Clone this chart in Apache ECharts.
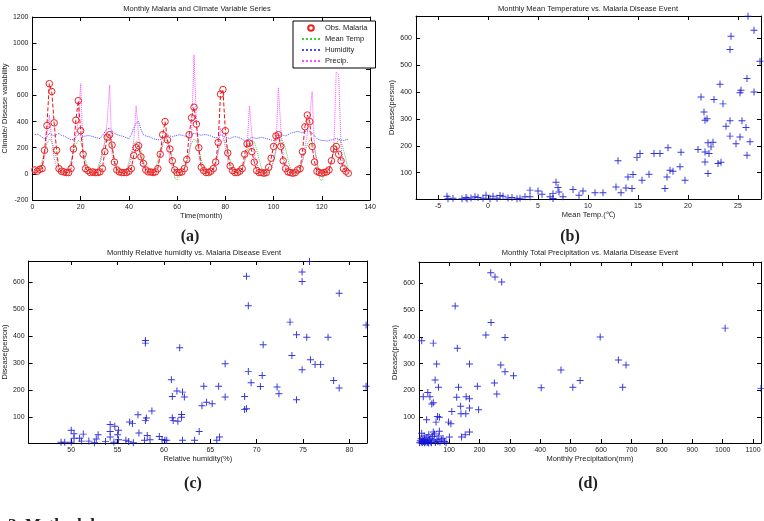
<!DOCTYPE html>
<html>
<head>
<meta charset="utf-8">
<script src="https://cdn.jsdelivr.net/npm/echarts@6/dist/echarts.min.js"></script>
<style>
html, body { margin: 0; padding: 0; background: #fff; }
#container { width: 764px; height: 521px; }
</style>
</head>
<body>
<div id="container"></div>
<script>
// (a) monthly series, one value per month
var malaria = [
    30, 20, 35, 40, 180, 370, 690, 630, 390, 180, 40, 20,
    15, 10, 10, 40, 190, 410, 560, 330, 150, 40, 25, 10,
    15, 10, 10, 15, 40, 170, 280, 300, 220, 90, 30, 15,
    10, 10, 10, 20, 40, 140, 200, 215, 130, 80, 30, 15,
    15, 10, 15, 40, 150, 300, 400, 260, 190, 100, 30, 10,
    10, 15, 40, 110, 300, 430, 510, 380, 200, 50, 25, 10,
    10, 20, 40, 90, 240, 610, 645, 330, 160, 60, 25, 10,
    10, 20, 40, 150, 230, 235, 170, 90, 25, 10, 10, 5,
    10, 50, 120, 210, 290, 300, 210, 100, 40, 15, 10, 5,
    10, 30, 40, 170, 360, 450, 400, 210, 90, 20, 10, 5,
    10, 15, 30, 100, 190, 210, 150, 100, 40, 20, 5
];
var meanTemp = [
    10, 5, 40, 100, 170, 230, 265, 250, 190, 110, 45, 10,
    5, 10, 35, 95, 165, 225, 255, 245, 185, 105, 40, 5,
    0, 10, 40, 100, 175, 235, 270, 255, 195, 115, 45, 10,
    5, 5, 30, 90, 160, 220, 250, 240, 180, 100, 35, 5,
    0, 10, 40, 105, 170, 230, 260, 250, 190, 110, -30, -45,
    5, 15, 45, 100, 175, 235, 265, 255, 190, 110, 40, 5,
    0, 10, 40, 95, 170, 230, 260, 250, 185, 105, 40, 10,
    5, 10, 35, 100, 170, 225, 255, 245, 185, 110, 45, 5,
    0, 10, 40, 100, 175, 230, 265, 250, 190, 110, 40, 5,
    5, 10, 40, 95, 165, 225, 260, 250, 190, 105, -35, -55,
    0, 10, 35, 100, 170, 230, 260, 245, 185, 110, 30
];
var humidity = [
    300, 305, 295, 280, 270, 285, 310, 300, 290, 300, 310, 295,
    290, 280, 270, 260, 265, 280, 300, 290, 285, 290, 295, 290,
    285, 280, 275, 270, 290, 320, 345, 350, 330, 310, 300, 295,
    290, 285, 275, 270, 300, 350, 390, 400, 340, 300, 290, 285,
    280, 270, 265, 260, 262, 270, 290, 300, 290, 285, 290, 295,
    300, 295, 290, 285, 290, 300, 310, 305, 300, 295, 300, 300,
    295, 290, 280, 275, 280, 300, 290, 280, 275, 270, 280, 285,
    280, 275, 265, 255, 260, 270, 280, 275, 270, 275, 280, 275,
    270, 265, 260, 255, 265, 280, 300, 295, 290, 300, 310, 315,
    320, 325, 320, 315, 320, 330, 325, 310, 290, 270, 260, 255,
    255, 250, 255, 260, 265, 270, 265, 260, 255, 260, 265
];
var precip = [
    20, 15, 30, 60, 120, 300, 450, 250, 120, 50, 20, 10,
    15, 20, 40, 80, 200, 300, 400, 690, 150, 60, 25, 10,
    10, 20, 35, 70, 150, 250, 400, 680, 150, 70, 25, 10,
    10, 15, 30, 60, 120, 250, 520, 300, 120, 50, 20, 10,
    10, 15, 30, 60, 130, 220, 300, 250, 120, 50, 20, 10,
    10, 20, 40, 80, 150, 300, 910, 400, 150, 60, 20, 10,
    10, 15, 30, 70, 150, 350, 300, 200, 100, 40, 15, 10,
    10, 20, 40, 90, 200, 520, 300, 150, 80, 30, 15, 10,
    10, 20, 40, 100, 200, 660, 350, 150, 70, 30, 15, 10,
    10, 20, 40, 100, 200, 300, 450, 630, 200, 80, 20, 10,
    10, 15, 30, 80, 200, 780, 760, 200, 80, 30, 10
];

// (b) mean temperature (C) vs disease
var tempX = [-4.1, -4.0, -3.5, -2.6, -2.2, -2.1, -1.7, -1.3, -1.0, -0.5, -0.2, 0.2, 0.5, 0.9, 1.2, 1.5, 2.0, 2.4, 2.9, 3.2,
    3.7, 4.2, 4.2, 5.0, 5.4, 6.2, 6.5, 6.5, 6.8, 7.0, 7.1, 7.5, 8.5, 9.1, 9.5, 10.7, 11.5, 12.8, 13.0, 13.3,
    13.8, 14.0, 14.4, 14.5, 14.9, 15.2, 15.4, 16.1, 16.6, 17.2, 17.7, 17.9, 18.0, 18.2, 18.5, 19.2, 19.3, 19.7, 21.0, 21.3,
    21.6, 21.7, 21.7, 21.7, 21.9, 22.0, 22.0, 22.1, 22.3, 22.5, 22.6, 23.0, 23.2, 23.3, 23.5, 23.8, 24.2, 24.2, 24.2, 24.3,
    24.8, 25.2, 25.2, 25.3, 25.4, 25.8, 25.9, 25.9, 26.0, 26.2, 26.6, 26.6, 27.2];
var tempCases = [12, 3, 5, 3, 8, 2, 6, 10, 8, 5, 16, 3, 12, 5, 15, 12, 6, 8, 3, 5,
    10, 35, 10, 32, 20, 10, 4, 22, 64, 45, 28, 10, 37, 16, 32, 25, 25, 47, 144, 25,
    43, 84, 41, 93, 156, 171, 72, 94, 171, 171, 41, 84, 193, 109, 105, 122, 176, 72, 186, 382,
    326, 295, 177, 140, 301, 211, 97, 171, 196, 213, 372, 134, 429, 139, 356, 273, 236, 293, 558, 608,
    208, 397, 233, 407, 293, 268, 450, 165, 682, 215, 630, 400, 515];

// (c) relative humidity (%) vs disease
var humX = [48.9, 49.3, 50.0, 50.0, 50.3, 50.3, 50.9, 51.3, 51.1, 51.9, 52.5, 52.7, 52.9, 53.7, 54.2, 54.2, 54.2, 54.7, 54.6, 55.0,
    55.1, 55.1, 56.3, 56.6, 55.9, 56.2, 56.7, 57.2, 57.3, 58.0, 58.1, 58.0, 58.0, 57.9, 58.2, 58.5, 58.7, 59.5, 59.8, 60.1,
    60.3, 60.8, 60.9, 60.9, 61.0, 61.4, 61.5, 61.7, 61.9, 61.9, 62.0, 62.0, 62.2, 63.3, 63.8, 64.1, 64.3, 64.6, 65.2, 65.7,
    65.9, 66.0, 66.6, 66.6, 68.7, 68.7, 68.9, 68.9, 69.1, 69.1, 69.4, 70.4, 70.6, 70.7, 72.2, 72.4, 73.6, 73.8, 74.3, 74.3,
    74.9, 74.9, 74.9, 75.4, 75.7, 75.8, 76.3, 76.9, 77.7, 78.3, 78.9, 78.9, 81.8, 81.8];
var humCases = [7, 7, 51, 7, 38, 22, 22, 37, 11, 11, 5, 19, 35, 10, 73, 47, 26, 66, 7, 35,
    16, 51, 82, 76, 14, 10, 5, 109, 41, 88, 97, 385, 375, 14, 32, 16, 123, 28, 17, 14,
    14, 239, 177, 98, 88, 197, 85, 358, 110, 100, 193, 14, 175, 14, 47, 142, 215, 155, 150, 14,
    215, 26, 298, 175, 177, 128, 131, 623, 514, 270, 228, 214, 255, 369, 212, 187, 453, 329, 406, 165,
    639, 604, 276, 397, 678, 313, 296, 296, 397, 236, 560, 208, 442, 215];

// (d) monthly precipitation (mm) vs disease
var rainX = [3, 5, 6, 8, 9, 10, 12, 13, 14, 16, 18, 19, 20, 22, 24, 25, 27, 28, 30, 32,
    33, 35, 38, 40, 42, 45, 50, 52, 55, 60, 63, 66, 70, 75, 80, 85, 90,
    10, 15, 26, 30, 37, 43, 48, 48, 54, 57, 59, 62, 65, 68, 48, 68, 98, 106, 109, 101,
    120, 127, 125, 131, 138, 139, 141, 155, 156, 153, 167, 167, 167, 167, 193, 197, 221, 237, 238, 251,
    249, 257, 270, 273, 284, 284, 312, 403, 468, 507, 531, 597, 657, 671, 682, 695, 1008, 1126];
var rainCases = [5, 12, 3, 20, 8, 40, 6, 15, 2, 10, 30, 5, 18, 8, 12, 3, 25, 6, 10, 4,
    35, 15, 8, 20, 5, 28, 12, 38, 6, 18, 10, 30, 8, 15, 22, 10, 5,
    386, 177, 91, 193, 177, 150, 377, 154, 239, 82, 299, 103, 212, 100, 45, 48, 82, 76, 122, 26,
    516, 358, 175, 212, 141, 113, 26, 113, 177, 35, 169, 135, 299, 45, 216, 128, 407, 640, 454, 624,
    228, 187, 295, 605, 398, 270, 255, 210, 277, 212, 237, 400, 314, 212, 295, 681, 433, 208];

var FONT = '"Liberation Sans Narrow", "Liberation Sans", Arial, sans-serif';
var PLUS = 'path://M4.3,0H5.7V4.3H10V5.7H5.7V10H4.3V5.7H0V4.3H4.3Z';

function pairs(xs, ys) {
    return xs.map(function (x, i) { return [x, ys[i]]; });
}
function byMonth(vals) {
    return vals.map(function (v, i) { return [i + 1, v]; });
}

// main axis plus a mirrored one so every plot gets a closed box with inward ticks
function axisPair(kind, gridIndex, range, name, nameGap, exact) {
    var base = {
        type: 'value', gridIndex: gridIndex, min: range[0], max: range[1],
        splitLine: {show: false},
        axisLine: {onZero: false, lineStyle: {color: '#000', width: 1}},
        axisTick: {inside: true, length: 4, lineStyle: {color: '#000'}}
    };
    if (exact) {
        base.interval = range[2];
    } else {
        base.minInterval = range[2];
        base.maxInterval = range[2];
    }
    var main = Object.assign({}, base, {
        position: kind === 'x' ? 'bottom' : 'left',
        name: name, nameLocation: 'middle', nameGap: nameGap,
        nameTextStyle: {fontSize: 7.5, color: '#222', fontFamily: FONT},
        axisLabel: {fontSize: 7, color: '#222', fontFamily: FONT, margin: 4,
            showMinLabel: exact, showMaxLabel: exact,
            formatter: function (v) { return String(v); }}
    });
    var mirror = Object.assign({}, base, {
        position: kind === 'x' ? 'top' : 'right',
        axisLabel: {show: false}
    });
    return [main, mirror];
}

function txt(text, x, y, font, align) {
    return {
        type: 'text', x: x, y: y, silent: true,
        style: {text: text, fill: '#222', font: font,
            textAlign: align || 'center', textVerticalAlign: 'middle',
            align: align || 'center', verticalAlign: 'middle'}
    };
}

var small = '7.5px ' + FONT;
var panel = 'bold 16px "Liberation Serif", "Times New Roman", serif';

var xAxes = [].concat(
    axisPair('x', 0, [0, 140, 20], 'Time(month)', 11, true),
    axisPair('x', 1, [-7.2, 27.3, 5], 'Mean Temp.(\u2103)', 11, false),
    axisPair('x', 2, [45.4, 81.9, 5], 'Relative humidity(%)', 11, false),
    axisPair('x', 3, [1, 1126, 100], 'Monthly Precipitation(mm)', 11, false)
);
var yAxes = [].concat(
    axisPair('y', 0, [-200, 1200, 200], 'Climate/ Disease variability', 17, true),
    axisPair('y', 1, [2, 683, 100], 'Disease(person)', 17, false),
    axisPair('y', 2, [4, 680, 100], 'Disease(person)', 16, false),
    axisPair('y', 3, [4, 680, 100], 'Disease(person)', 18, false)
);

function scatter(idx, data) {
    return {
        type: 'scatter', xAxisIndex: idx * 2, yAxisIndex: idx * 2, data: data,
        symbol: PLUS, symbolSize: 7, silent: true,
        itemStyle: {color: '#1414d8', opacity: 0.85}
    };
}

var option = {
    animation: false,
    backgroundColor: '#fff',
    grid: [
        {left: 25, top: 17, width: 345, height: 183},
        {left: 416, top: 16, width: 345, height: 183},
        {left: 24, top: 261, width: 343, height: 182},
        {left: 419, top: 262, width: 342, height: 181}
    ],
    xAxis: xAxes,
    yAxis: yAxes,
    legend: {
        data: [
            {name: 'Obs. Malaria', lineStyle: {opacity: 0}},
            {name: 'Mean Temp', itemStyle: {opacity: 0}},
            {name: 'Humidity', itemStyle: {opacity: 0}},
            {name: 'Precip.', itemStyle: {opacity: 0}}
        ],
        orient: 'vertical', left: 293, top: 21,
        itemWidth: 18, itemHeight: 7, itemGap: 3,
        backgroundColor: '#fff', borderColor: '#000', borderWidth: 1,
        padding: [3, 8, 3, 8],
        textStyle: {fontSize: 7.5, color: '#222', fontFamily: FONT}
    },
    series: [
        {
            name: 'Mean Temp', type: 'line', data: byMonth(meanTemp), symbol: 'none',
            lineStyle: {color: '#3ccf3c', width: 1, type: 'dotted'}, itemStyle: {color: '#3ccf3c'}
        },
        {
            name: 'Humidity', type: 'line', data: byMonth(humidity), symbol: 'none',
            lineStyle: {color: '#4a4aff', width: 1, type: 'dotted'}, itemStyle: {color: '#4a4aff'}
        },
        {
            name: 'Precip.', type: 'line', data: byMonth(precip), symbol: 'none',
            lineStyle: {color: '#ff4cff', width: 1, type: 'dotted'}, itemStyle: {color: '#ff4cff'}
        },
        {
            name: 'Obs. Malaria', type: 'line', data: byMonth(malaria), z: 5,
            symbol: 'circle', symbolSize: 6.5,
            lineStyle: {color: '#ee1111', width: 1, type: [4, 2]},
            itemStyle: {color: 'rgba(255,0,0,0)', borderColor: '#ee2222', borderWidth: 1}
        },
        scatter(1, pairs(tempX, tempCases)),
        scatter(2, pairs(humX, humCases)),
        scatter(3, pairs(rainX, rainCases))
    ],
    graphic: [
        txt('Monthly Malaria and Climate Variable Series', 197, 9, small),
        txt('Monthly Mean Temperature vs. Malaria Disease Event', 588, 9, small),
        txt('Monthly Relative humidity vs. Malaria Disease Event', 194, 253, small),
        txt('Monthly Total Precipitation vs. Malaria Disease Event', 590, 253, small),
        txt('(a)', 190, 237, panel),
        txt('(b)', 570, 237, panel),
        txt('(c)', 193, 484, panel),
        txt('(d)', 588, 484, panel),
        txt('3. Methodology', 8, 526, 'bold 17px "Liberation Serif", "Times New Roman", serif', 'left')
    ]
};

var myChart = echarts.init(document.getElementById('container'), null, {renderer: 'canvas'});
myChart.setOption(option);
</script>
</body>
</html>
